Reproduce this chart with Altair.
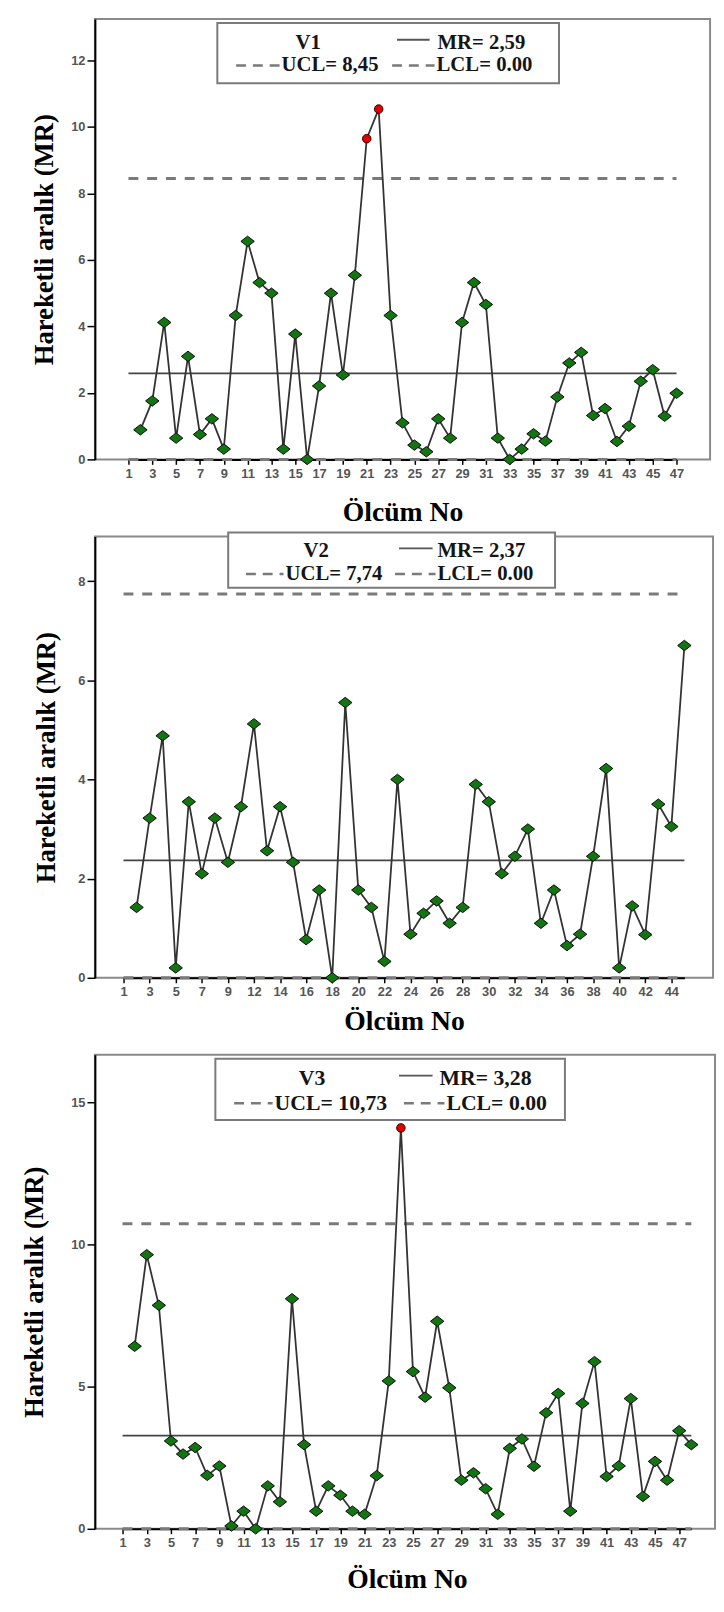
import altair as alt
import pandas as pd

# ---------------- data ----------------
v1_cats = list(range(1, 48))
v1_obs = list(range(2, 48))
v1_mr = [0.89, 1.76, 4.12, 0.64, 3.10, 0.75, 1.22, 0.31, 4.33, 6.56, 5.32, 5.00, 0.31,
         3.77, 0.00, 2.21, 5.00, 2.54, 5.54, 9.65, 10.54, 4.33, 1.10, 0.43, 0.23, 1.22,
         0.64, 4.12, 5.32, 4.66, 0.64, 0.00, 0.31, 0.77, 0.55, 1.88, 2.90, 3.22, 1.32,
         1.53, 0.54, 1.00, 2.35, 2.70, 1.30, 1.99]
v1_labels = list(range(1, 48, 2))
v1_center, v1_ucl, v1_lcl = 2.59, 8.45, 0.00

v2_cats = list(range(1, 11)) + list(range(12, 46))
v2_obs = list(range(2, 11)) + list(range(12, 46))
v2_mr = [1.42, 3.22, 4.88, 0.20, 3.55, 2.10, 3.22, 2.33, 3.45, 5.12, 2.56, 3.45, 2.33,
         0.77, 1.77, 0.00, 5.55, 1.77, 1.42, 0.33, 4.00, 0.88, 1.30, 1.55, 1.10, 1.42,
         3.90, 3.55, 2.10, 2.45, 3.00, 1.10, 1.77, 0.65, 0.88, 2.45, 4.22, 0.20, 1.45,
         0.87, 3.50, 3.05, 6.70]
v2_labels = [1, 3, 5, 7, 9] + list(range(12, 45, 2))
v2_center, v2_ucl, v2_lcl = 2.37, 7.74, 0.00

v3_cats = list(range(1, 49))
v3_obs = list(range(2, 49))
v3_mr = [6.42, 9.64, 7.86, 3.09, 2.63, 2.86, 1.88, 2.21, 0.10, 0.62, 0.00, 1.51, 0.95,
         8.09, 2.96, 0.62, 1.51, 1.18, 0.62, 0.51, 1.87, 5.20, 14.10, 5.53, 4.63, 7.30,
         4.96, 1.71, 1.97, 1.41, 0.51, 2.83, 3.16, 2.20, 4.08, 4.76, 0.62, 4.41, 5.88,
         1.84, 2.21, 4.58, 1.14, 2.37, 1.71, 3.45, 2.96]
v3_labels = list(range(1, 48, 2))
v3_center, v3_ucl, v3_lcl = 3.28, 10.73, 0.00

SERIF = "Liberation Serif"
SANS = "Liberation Sans"
GREEN = "#127512"
RED = "#e00000"
DIAMOND = "M-1,0L0,-0.78L1,0L0,0.78Z"


def fmt_c(v):
    return f"{v:.2f}".replace(".", ",")


def panel(name, cats, obs, mr, labels, center, ucl, lcl, ymax, yticks,
          width, height, xrange, xtp, ytp, lg):
    df = pd.DataFrame({"obs": obs, "mr": mr})
    df["out"] = df["mr"] > ucl
    lines = pd.DataFrame({
        "obs": [cats[0]] * 3, "obs_end": [cats[-1]] * 3,
        "val": [center, ucl, lcl], "kind": ["MR", "UCL", "LCL"]})

    xaxis = alt.Axis(values=labels, labelAngle=0, tickSize=5, labelPadding=3,
                     labelOverlap=False, title="Ölcüm No", titleFontSize=28,
                     titlePadding=xtp)
    yaxis = alt.Axis(values=yticks, tickSize=8, labelPadding=2,
                     title="Hareketli aralık (MR)", titleFontSize=27,
                     titlePadding=ytp)
    xs = alt.Scale(type="point", domain=cats, range=xrange, padding=0)
    ys = alt.Scale(domain=[0, ymax], nice=False, zero=True)
    X = alt.X("obs:O", scale=xs, axis=xaxis)
    Y = alt.Y("mr:Q", scale=ys, axis=yaxis)

    base = alt.Chart(df)
    line = base.mark_line(color="#333333", strokeWidth=1.8).encode(x=X, y=Y)
    pts = base.transform_filter("!datum.out").mark_point(
        shape=DIAMOND, filled=True, fill=GREEN, stroke="#0a0a0a",
        strokeWidth=1, size=185, opacity=1).encode(x=X, y=Y)
    red = base.transform_filter("datum.out").mark_point(
        shape="circle", filled=True, fill=RED, stroke="#300000",
        strokeWidth=1, size=75, opacity=1).encode(x=X, y=Y)

    lbase = alt.Chart(lines)
    LX = alt.X("obs:O", scale=xs, axis=xaxis)
    LY = alt.Y("val:Q", scale=ys, axis=yaxis)
    mr_line = lbase.transform_filter("datum.kind == 'MR'").mark_rule(
        color="#444444", strokeWidth=1.8).encode(x=LX, x2="obs_end:O", y=LY)
    lim_line = lbase.transform_filter("datum.kind != 'MR'").mark_rule(
        color="#7a7a7a", strokeWidth=3, strokeDash=[10, 9]).encode(
        x=LX, x2="obs_end:O", y=LY)

    one = alt.Data(values=[{}])
    fs = lg["fs"]
    box = alt.Chart(one).mark_rect(fill="white", stroke="#7a7a7a", strokeWidth=2).encode(
        x=alt.value(lg["box"][0]), x2=alt.value(lg["box"][1]),
        y=alt.value(lg["box"][2]), y2=alt.value(lg["box"][3]))

    def txt(t, x, y, align="left"):
        return alt.Chart(one).mark_text(
            text=t, align=align, baseline="middle", font=SERIF, fontSize=fs,
            fontWeight="bold", color="#151515").encode(x=alt.value(x), y=alt.value(y))

    def sample(x0, x1, y, dashed):
        kw = dict(color="#7a7a7a", strokeWidth=2.5)
        if dashed:
            kw["strokeDash"] = [10, 7]
        else:
            kw["color"] = "#555555"
            kw["strokeWidth"] = 1.8
        return alt.Chart(one).mark_rule(**kw).encode(
            x=alt.value(x0), x2=alt.value(x1), y=alt.value(y))

    r1, r2 = lg["r1"], lg["r2"]
    legend = [
        box,
        txt(name, lg["name"], r1, "center"),
        sample(lg["mrs"][0], lg["mrs"][1], r1 - 3, False),
        txt(f"MR= {fmt_c(center)}", lg["mrt"], r1),
        sample(lg["us"][0], lg["us"][1], r2, True),
        txt(f"UCL= {fmt_c(ucl)}", lg["ut"], r2),
        sample(lg["ls"][0], lg["ls"][1], r2, True),
        txt(f"LCL= {lcl:.2f}", lg["lt"], r2),
    ]

    return alt.layer(lim_line, mr_line, line, pts, red, *legend).properties(
        width=width, height=height)


p1 = panel("V1", v1_cats, v1_obs, v1_mr, v1_labels, v1_center, v1_ucl, v1_lcl,
           13.25, [0, 2, 4, 6, 8, 10, 12], 623, 446, [34, 589], 19, 12,
           dict(fs=21, box=(124, 470, 4, 65), r1=24, r2=47, name=216,
                mrs=(306, 339), mrt=347, us=(143, 187), ut=189,
                ls=(301, 344), lt=346))
p2 = panel("V2", v2_cats, v2_obs, v2_mr, v2_labels, v2_center, v2_ucl, v2_lcl,
           8.9, [0, 2, 4, 6, 8], 626, 447, [29, 597], 9, 18,
           dict(fs=21, box=(135, 466, -4, 52), r1=15, r2=38, name=224,
                mrs=(308, 342), mrt=347, us=(153, 191), ut=193,
                ls=(304, 345), lt=347))
p3 = panel("V3", v3_cats, v3_obs, v3_mr, v3_labels, v3_center, v3_ucl, v3_lcl,
           16.67, [0, 5, 10, 15], 628, 480, [28, 604], 16, 23,
           dict(fs=22, box=(122, 476, 4, 66), r1=24, r2=49, name=220,
                mrs=(308, 342), mrt=349, us=(141, 180), ut=182,
                ls=(313, 354), lt=356))

chart = alt.vconcat(p1, p2, p3, spacing=78, bounds="flush").properties(
    padding={"left": 11, "top": 0, "right": 0, "bottom": 0}
).configure_view(
    stroke="#8a8a8a", strokeWidth=2
).configure_axis(
    grid=False, domainColor="black", domainWidth=2, tickColor="black",
    tickWidth=1.5, labelColor="#555555", labelFont=SANS, labelFontWeight="bold",
    labelFontSize=13, titleFont=SERIF, titleFontWeight="bold", titleColor="black"
)

chart.save("out.html", embed_options={"renderer": "svg", "actions": False})
